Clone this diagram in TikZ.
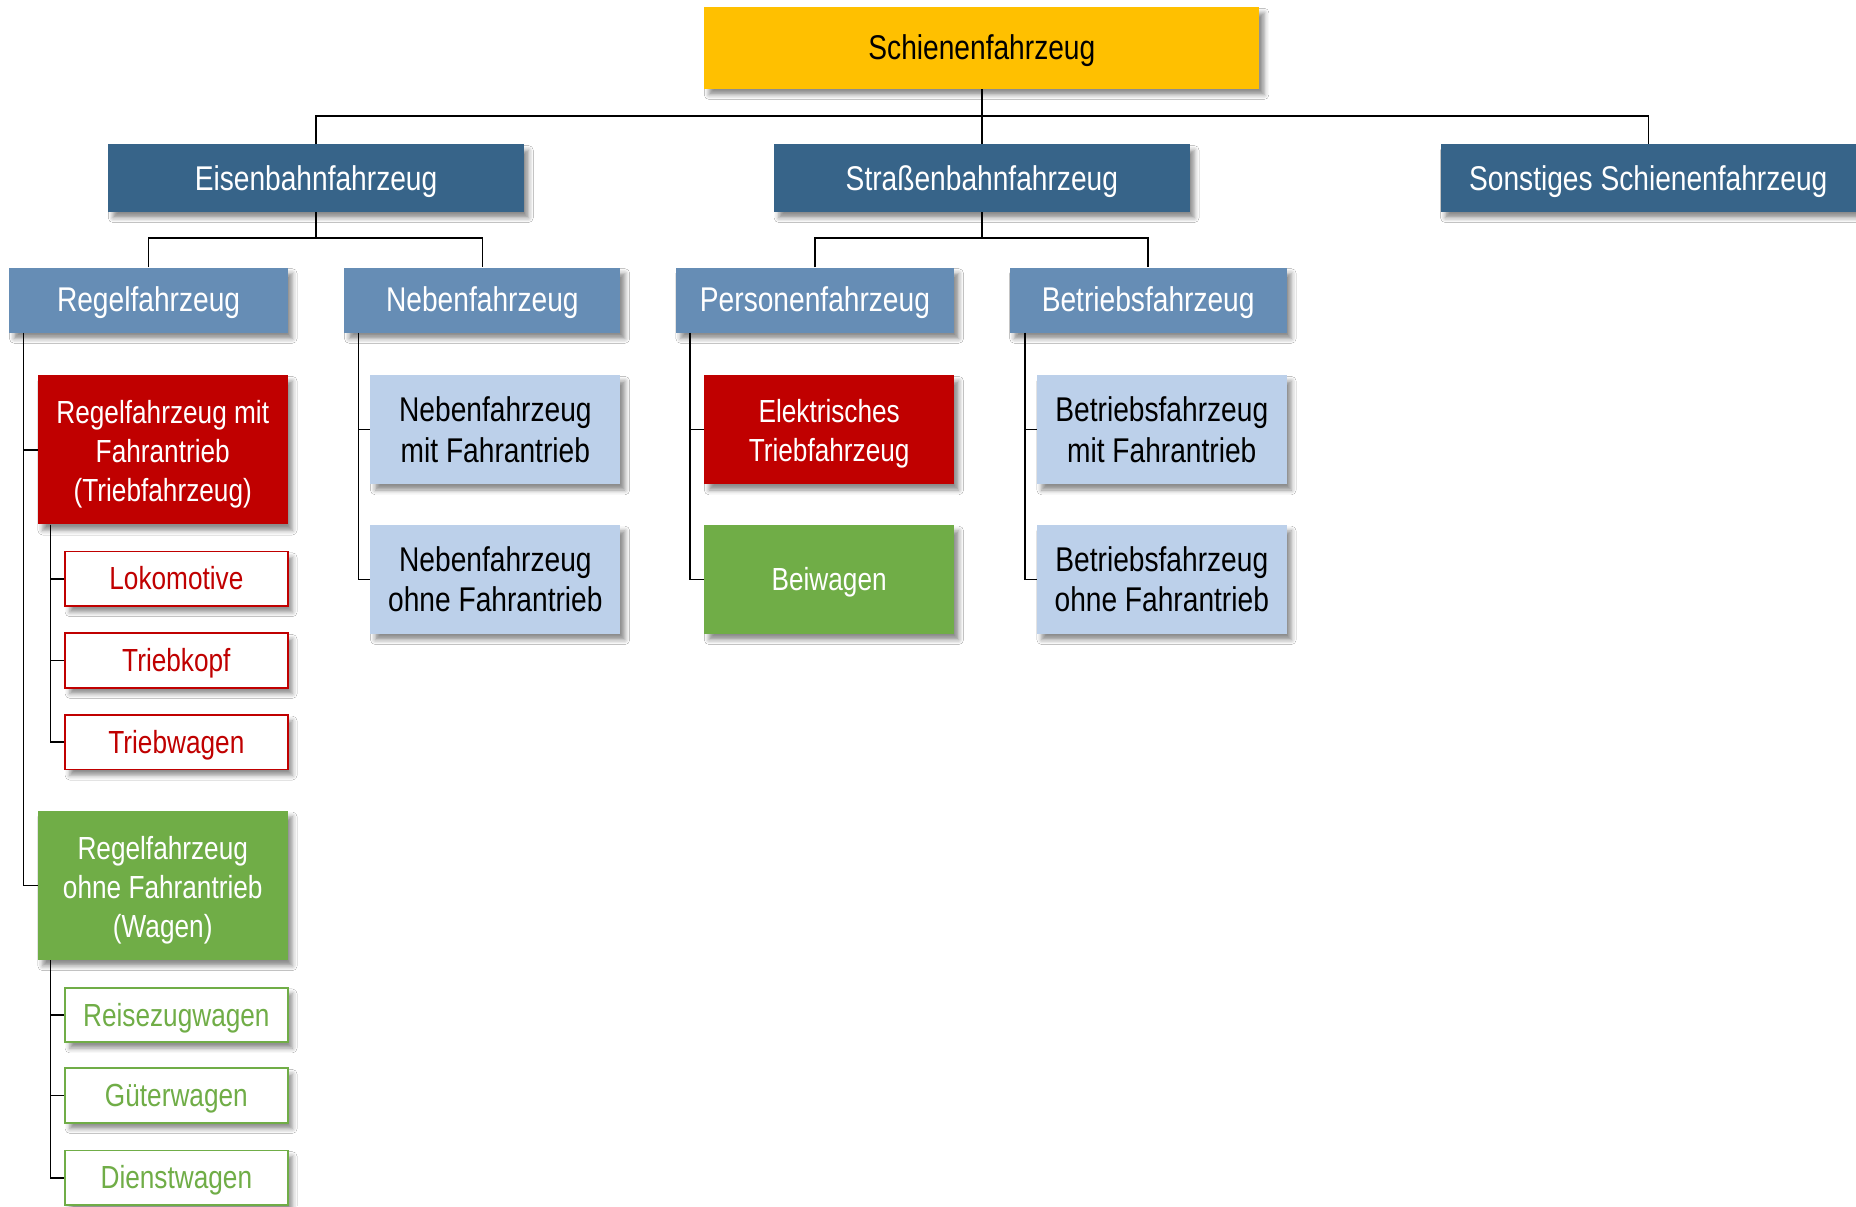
\documentclass[tikz,border=0pt]{standalone}
\usepackage{fontspec}
\setmainfont{Liberation Sans}[FakeStretch=0.82]
\usetikzlibrary{shadows.blur}
\definecolor{cgold}{HTML}{FFC000}
\definecolor{cdark}{HTML}{376489}
\definecolor{cmid}{HTML}{668DB5}
\definecolor{clight}{HTML}{BCD0EA}
\definecolor{cred}{HTML}{C00000}
\definecolor{cgreen}{HTML}{70AD47}
\newcommand\topstrut{\rule{0pt}{0.905em}}
\newcommand\botstrut{\rule[-0.212em]{0pt}{0pt}}
\newcommand\firststrut{\rule{0pt}{1em}}
\begin{document}
\begin{tikzpicture}[x=1pt,y=1pt,
  box/.style={rectangle, inner sep=0pt, align=center,
    blur shadow={shadow xshift=4pt, shadow yshift=-5pt, shadow blur radius=4pt, shadow opacity=45}},
  sl/.style={execute at begin node=\topstrut, execute at end node=\botstrut},
  big/.style={font=\fontsize{29}{34}\selectfont},
  small/.style={font=\fontsize{27}{33}\selectfont},
  topbox/.style={box, sl, big, fill=cgold, text=black, minimum width=469pt, minimum height=69pt},
  lvlone/.style={box, sl, big, fill=cdark, text=white, minimum width=351pt, minimum height=57pt},
  lvltwo/.style={box, sl, big, fill=cmid, text=white, minimum height=55pt},
  lightbox/.style={box, big, fill=clight, text=black, minimum width=211pt, minimum height=92pt},
  redbox/.style={box, small, fill=cred, text=white, minimum width=211pt},
  greenbox/.style={box, small, fill=cgreen, text=white, minimum width=211pt},
  redline/.style={box, sl, small, fill=white, draw=cred, line width=1.5pt, text=cred, minimum width=188pt, minimum height=46pt},
  greenline/.style={box, sl, small, fill=white, draw=cgreen, line width=1.5pt, text=cgreen, minimum width=188pt, minimum height=46pt},
  conn/.style={draw=black, line width=1.3pt}
]
\useasboundingbox (0,0) rectangle (1568,-1019);
\fill[white] (0,0) rectangle (1568,-1019);

% level 0
\node[topbox] (S) at (829.5,-40.5) {Schienenfahrzeug};
% level 1
\node[lvlone] (E) at (267,-150.5) {Eisenbahnfahrzeug};
\node[lvlone] (SB) at (829.5,-150.5) {Straßenbahnfahrzeug};
\node[lvlone] (SO) at (1392.5,-150.5) {Sonstiges Schienenfahrzeug};
% level 2
\node[lvltwo, minimum width=235pt] (RF) at (125.5,-253.5) {Regelfahrzeug};
\node[lvltwo, minimum width=233pt] (NF) at (407.5,-253.5) {Nebenfahrzeug};
\node[lvltwo, minimum width=235pt] (PF) at (688.5,-253.5) {Personenfahrzeug};
\node[lvltwo, minimum width=234pt] (BF) at (970,-253.5) {Betriebsfahrzeug};
% Regelfahrzeug branch
\node[redbox, minimum height=126pt] (RM) at (137.5,-380) {\firststrut Regelfahrzeug mit\\Fahrantrieb\\(Triebfahrzeug)};
\node[redline] (LK) at (149,-489) {Lokomotive};
\node[redline] (TK) at (149,-558) {Triebkopf};
\node[redline] (TW) at (149,-627) {Triebwagen};
\node[greenbox, minimum height=126pt] (RO) at (137.5,-748) {\firststrut Regelfahrzeug\\ohne Fahrantrieb\\(Wagen)};
\node[greenline] (RZ) at (149,-857.5) {Reisezugwagen};
\node[greenline] (GW) at (149,-925.5) {Güterwagen};
\node[greenline] (DW) at (149,-995) {Dienstwagen};
% Nebenfahrzeug branch
\node[lightbox] (NM) at (418.5,-363) {Nebenfahrzeug\\mit Fahrantrieb};
\node[lightbox] (NO) at (418.5,-489.5) {Nebenfahrzeug\\ohne Fahrantrieb};
% Personenfahrzeug branch
\node[redbox, minimum height=92pt] (ET) at (700.5,-363) {\firststrut Elektrisches\\Triebfahrzeug};
\node[greenbox, sl, minimum height=92pt] (BW) at (700.5,-489.5) {Beiwagen};
% Betriebsfahrzeug branch
\node[lightbox] (BM) at (981.5,-363) {Betriebsfahrzeug\\mit Fahrantrieb};
\node[lightbox] (BO) at (981.5,-489.5) {Betriebsfahrzeug\\ohne Fahrantrieb};

% bus coordinates
\coordinate (busS) at (829.5,-98);
\coordinate (busE) at (267,-201);
\coordinate (busP) at (829.5,-201);

% connectors
\draw[conn] (S.south) -- (SB.north);
\draw[conn] (E.north) |- (busS) -| (SO.north);
\draw[conn] (E.south) -- (busE);
\draw[conn] (RF.north) |- (busE) -| (NF.north);
\draw[conn] (SB.south) -- (busP);
\draw[conn] (PF.north) |- (busP) -| (BF.north);

\draw[conn] ([xshift=12pt]RF.south west) |- (RM.west);
\draw[conn] ([xshift=12pt]RF.south west) |- (RO.west);
\draw[conn] ([xshift=11pt]RM.south west) |- (LK.west);
\draw[conn] ([xshift=11pt]RM.south west) |- (TK.west);
\draw[conn] ([xshift=11pt]RM.south west) |- (TW.west);
\draw[conn] ([xshift=11pt]RO.south west) |- (RZ.west);
\draw[conn] ([xshift=11pt]RO.south west) |- (GW.west);
\draw[conn] ([xshift=11pt]RO.south west) |- (DW.west);

\draw[conn] ([xshift=12pt]NF.south west) |- (NM.west);
\draw[conn] ([xshift=12pt]NF.south west) |- (NO.west);
\draw[conn] ([xshift=12pt]PF.south west) |- (ET.west);
\draw[conn] ([xshift=12pt]PF.south west) |- (BW.west);
\draw[conn] ([xshift=13pt]BF.south west) |- (BM.west);
\draw[conn] ([xshift=13pt]BF.south west) |- (BO.west);
\end{tikzpicture}
\end{document}
